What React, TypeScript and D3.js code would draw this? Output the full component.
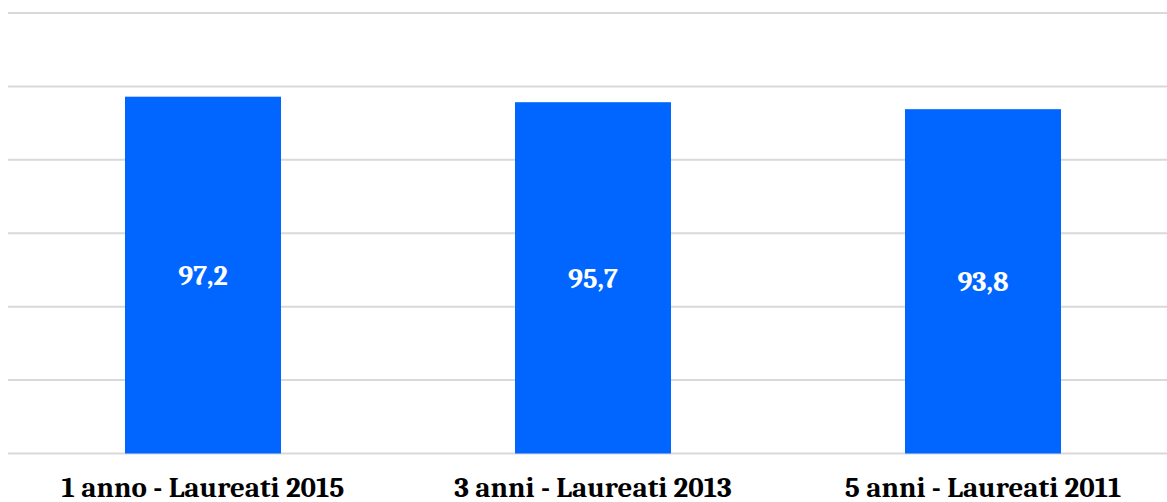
import React from "react";
import * as d3 from "d3";

const categories = ["1 anno - Laureati 2015", "3 anni - Laureati 2013", "5 anni - Laureati 2011"];
const values = [97.2, 95.7, 93.8];
const yTicks = [0, 20, 40, 60, 80, 100, 120];

const W = 1167;
const H = 502;

export default function App() {
  const x = d3.scaleBand<string>().domain(categories).range([8, 1178]).paddingInner(0.6).paddingOuter(0.3);
  const y = d3.scaleLinear().domain([0, 120]).range([453.5, 13]);
  const fmt = (v: number) => v.toFixed(1).replace(".", ",");
  const font = "Cambria, Caladea, 'Liberation Serif', 'DejaVu Serif', serif";
  return (
    <div style={{ position: "absolute", left: 0, top: 0 }}>
      <svg width={W} height={H} style={{ display: "block", background: "#fff" }}>
        {yTicks.map((t) => (
          <line key={t} x1={8} x2={W} y1={y(t)} y2={y(t)} stroke="#d9d9d9" strokeWidth={2} />
        ))}
        {categories.map((c, i) => (
          <rect key={c} x={x(c)} y={y(values[i])} width={x.bandwidth()} height={y(0) - y(values[i])} fill="#0066ff" />
        ))}
        {categories.map((c, i) => (
          <text
            key={"v" + c}
            x={(x(c) as number) + x.bandwidth() / 2}
            y={(y(values[i]) + y(0)) / 2 + 10}
            textAnchor="middle"
            fill="#fff"
            fontFamily={font}
            fontWeight="bold"
            fontSize={28}
          >
            {fmt(values[i])}
          </text>
        ))}
        {categories.map((c) => (
          <text
            key={"c" + c}
            x={(x(c) as number) + x.bandwidth() / 2}
            y={497}
            textAnchor="middle"
            fill="#000"
            fontFamily={font}
            fontWeight="bold"
            fontSize={29}
          >
            {c}
          </text>
        ))}
      </svg>
    </div>
  );
}
